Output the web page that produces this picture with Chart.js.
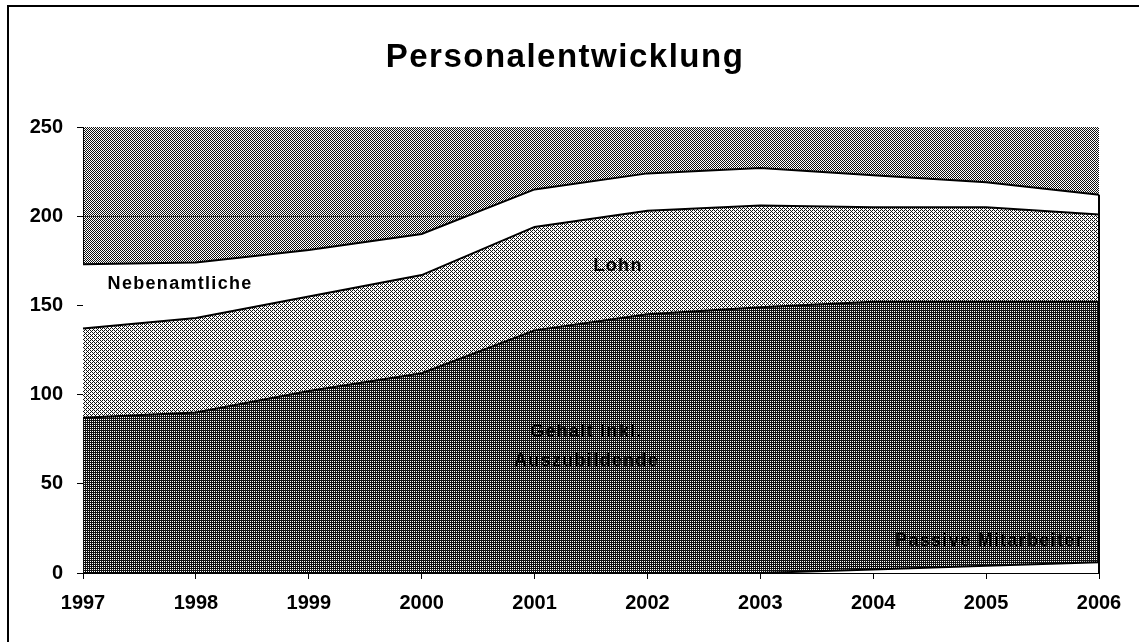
<!DOCTYPE html>
<html>
<head>
<meta charset="utf-8">
<script src="https://cdn.jsdelivr.net/npm/chart.js@4.4.1/dist/chart.umd.min.js"></script>
<style>
    html, body { margin: 0; padding: 0; background: #fff; }
    #contenedor { width: 1139px; height: 642px; position: relative; }
</style>
</head>
<body>
<div id="contenedor"><canvas id="grafica-personal"></canvas></div>
<script>
// Daten
const jahre = ['1997', '1998', '1999', '2000', '2001', '2002', '2003', '2004', '2005', '2006'];
const passiveMitarbeiter = [0, 0, 0, 0, 0, 0, 0, 2, 4, 6];
const gehalt = [87, 90, 102, 112, 136, 145, 149, 150, 148, 146];
const lohn = [50, 53, 53, 55, 58, 58, 57, 53, 53, 49];
const nebenamtliche = [36, 31, 26, 23, 21, 21, 21, 18, 14, 11];
const yTicks = [0, 50, 100, 150, 200, 250];

// Beschriftungen im Diagramm (x = Kategorie-Index, y = Wert)
const beschriftungen = [
    { text: 'Nebenamtliche', x: 0.86, y: 162 },
    { text: 'Lohn', x: 4.74, y: 172 },
    { text: 'Gehalt inkl.', x: 4.46, y: 79 },
    { text: 'Auszubildende', x: 4.46, y: 63 },
    { text: 'Passive Mitarbeiter', x: 8.03, y: 18 }
];

// Raster wie im gescannten Bild (ordered dither)
const bayer = [
    [0, 8, 2, 10],
    [12, 4, 14, 6],
    [3, 11, 1, 9],
    [15, 7, 13, 5]
];
function raster(anteilSchwarz) {
    const c = document.createElement('canvas');
    c.width = 4; c.height = 4;
    const g = c.getContext('2d');
    g.fillStyle = '#fff';
    g.fillRect(0, 0, 4, 4);
    g.fillStyle = '#111';
    for (let y = 0; y < 4; y++) {
        for (let x = 0; x < 4; x++) {
            if ((bayer[y][x] + 0.5) / 16 < anteilSchwarz) g.fillRect(x, y, 1, 1);
        }
    }
    return g.createPattern(c, 'repeat');
}

const musterHintergrund = raster(0.5);
const musterLohn = raster(0.38);
const musterGehalt = raster(0.72);

const pluginFondo = {
    id: 'fondo',
    beforeDraw(chart) {
        const { ctx, chartArea } = chart;
        ctx.save();
        ctx.fillStyle = musterHintergrund;
        ctx.fillRect(chartArea.left, chartArea.top, chartArea.right - chartArea.left, chartArea.bottom - chartArea.top);
        ctx.restore();
    }
};

const pluginTextos = {
    id: 'textos',
    afterDatasetsDraw(chart) {
        const { ctx } = chart;
        const xs = chart.scales.x;
        const ys = chart.scales.y;

        // senkrechte Kante am rechten Ende der Flächen
        const ultimo = jahre.length - 1;
        const total = passiveMitarbeiter[ultimo] + gehalt[ultimo] + lohn[ultimo] + nebenamtliche[ultimo];
        ctx.save();
        ctx.strokeStyle = '#000';
        ctx.lineWidth = 2;
        ctx.beginPath();
        ctx.moveTo(xs.getPixelForValue(ultimo), ys.getPixelForValue(total));
        ctx.lineTo(xs.getPixelForValue(ultimo), ys.getPixelForValue(0));
        ctx.stroke();

        ctx.fillStyle = '#000';
        ctx.font = 'bold 18px "Liberation Sans", Arial, sans-serif';
        ctx.letterSpacing = '1.3px';
        ctx.textAlign = 'center';
        ctx.textBaseline = 'middle';
        beschriftungen.forEach(b => {
            ctx.fillText(b.text, xs.getPixelForValue(b.x), ys.getPixelForValue(b.y));
        });
        ctx.restore();
    },
    afterDraw(chart) {
        const { ctx } = chart;
        ctx.save();
        // Titel
        ctx.fillStyle = '#000';
        ctx.font = 'bold 33px "Liberation Sans", Arial, sans-serif';
        ctx.letterSpacing = '1.5px';
        ctx.textAlign = 'center';
        ctx.textBaseline = 'alphabetic';
        ctx.fillText('Personalentwicklung', 565, 67);
        // Rahmen
        ctx.strokeStyle = '#000';
        ctx.lineWidth = 2;
        ctx.beginPath();
        ctx.moveTo(8, 642);
        ctx.lineTo(8, 6);
        ctx.lineTo(1139, 6);
        ctx.stroke();
        ctx.restore();
    }
};

const ctx = document.getElementById('grafica-personal').getContext('2d');

const grafica = new Chart(ctx, {
    type: 'line',
    data: {
        labels: jahre,
        datasets: [{
            label: 'Passive Mitarbeiter',
            data: passiveMitarbeiter,
            backgroundColor: '#fff',
            borderColor: '#000',
            borderWidth: 2,
            fill: 'origin'
        }, {
            label: 'Gehalt inkl. Auszubildende',
            data: gehalt,
            backgroundColor: musterGehalt,
            borderColor: '#000',
            borderWidth: 2,
            fill: '-1'
        }, {
            label: 'Lohn',
            data: lohn,
            backgroundColor: musterLohn,
            borderColor: '#000',
            borderWidth: 2,
            fill: '-1'
        }, {
            label: 'Nebenamtliche',
            data: nebenamtliche,
            backgroundColor: '#fff',
            borderColor: '#000',
            borderWidth: 2,
            fill: '-1'
        }]
    },
    options: {
        responsive: true,
        maintainAspectRatio: false,
        animation: false,
        elements: {
            point: { radius: 0 },
            line: { tension: 0 }
        },
        layout: {
            padding: { top: 127, right: 40, left: 0, bottom: 0 }
        },
        scales: {
            x: {
                offset: false,
                grid: {
                    drawOnChartArea: false,
                    tickLength: 6,
                    tickColor: '#000'
                },
                border: { color: '#000', width: 1 },
                ticks: {
                    color: '#000',
                    padding: 12,
                    maxRotation: 0,
                    font: { family: '"Liberation Sans", Arial, sans-serif', size: 20, weight: 'bold' }
                },
                afterFit: (scale) => { scale.height = 69; }
            },
            y: {
                stacked: true,
                min: 0,
                max: 250,
                afterBuildTicks: (scale) => { scale.ticks = yTicks.map(v => ({ value: v })); },
                grid: {
                    color: (c) => c.tick && c.tick.value === 200 ? '#333' : 'rgba(0,0,0,0)',
                    lineWidth: 1,
                    tickLength: 6,
                    tickColor: '#000'
                },
                border: { color: '#000', width: 1 },
                ticks: {
                    color: '#000',
                    padding: 14,
                    font: { family: '"Liberation Sans", Arial, sans-serif', size: 20, weight: 'bold' }
                },
                afterFit: (scale) => { scale.width = 83; }
            }
        },
        plugins: {
            legend: { display: false },
            tooltip: { enabled: false },
            title: { display: false }
        }
    },
    plugins: [pluginFondo, pluginTextos]
});
</script>
</body>
</html>
